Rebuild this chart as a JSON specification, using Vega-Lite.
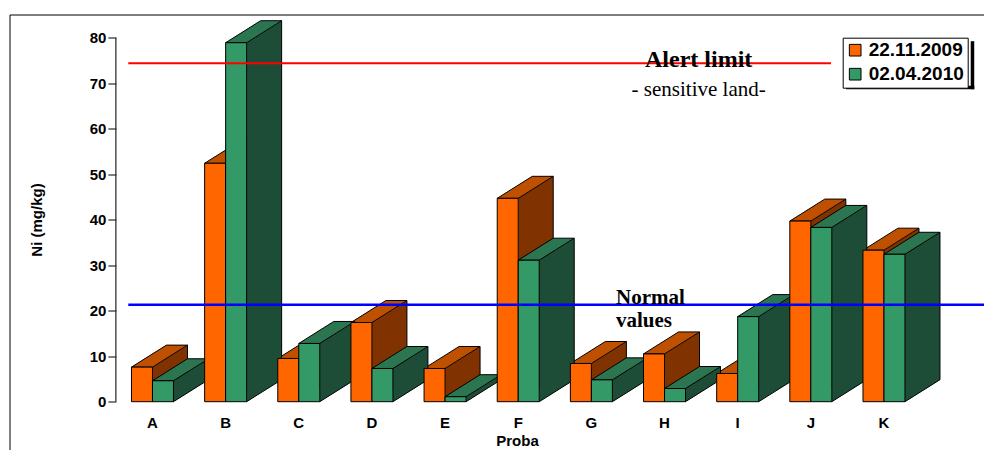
{
  "$schema": "https://vega.github.io/schema/vega-lite/v6.json",
  "width": 976,
  "height": 437,
  "autosize": "none",
  "padding": {"left": 9.5, "top": 14.5, "right": 0, "bottom": 0},
  "background": "white",
  "config": {
    "view": {"stroke": "black", "strokeWidth": 1},
    "font": "Liberation Sans"
  },
  "data": {
    "values": [
      {"Proba": "A", "Data": "22.11.2009", "Ni": 7.6},
      {"Proba": "A", "Data": "02.04.2010", "Ni": 4.6},
      {"Proba": "B", "Data": "22.11.2009", "Ni": 52.4},
      {"Proba": "B", "Data": "02.04.2010", "Ni": 78.9},
      {"Proba": "C", "Data": "22.11.2009", "Ni": 9.5},
      {"Proba": "C", "Data": "02.04.2010", "Ni": 12.8},
      {"Proba": "D", "Data": "22.11.2009", "Ni": 17.4},
      {"Proba": "D", "Data": "02.04.2010", "Ni": 7.3},
      {"Proba": "E", "Data": "22.11.2009", "Ni": 7.3},
      {"Proba": "E", "Data": "02.04.2010", "Ni": 1.1},
      {"Proba": "F", "Data": "22.11.2009", "Ni": 44.7},
      {"Proba": "F", "Data": "02.04.2010", "Ni": 31.1},
      {"Proba": "G", "Data": "22.11.2009", "Ni": 8.4},
      {"Proba": "G", "Data": "02.04.2010", "Ni": 4.8},
      {"Proba": "H", "Data": "22.11.2009", "Ni": 10.5},
      {"Proba": "H", "Data": "02.04.2010", "Ni": 2.9},
      {"Proba": "I", "Data": "22.11.2009", "Ni": 6.2},
      {"Proba": "I", "Data": "02.04.2010", "Ni": 18.7},
      {"Proba": "J", "Data": "22.11.2009", "Ni": 39.7},
      {"Proba": "J", "Data": "02.04.2010", "Ni": 38.3},
      {"Proba": "K", "Data": "22.11.2009", "Ni": 33.3},
      {"Proba": "K", "Data": "02.04.2010", "Ni": 32.4}
    ]
  },
  "encoding": {
    "x": {
      "field": "Proba",
      "type": "nominal",
      "scale": {
        "type": "band",
        "domain": ["A", "B", "C", "D", "E", "F", "G", "H", "I", "J", "K"],
        "range": [106.4, 911.05],
        "paddingInner": 0,
        "paddingOuter": 0
      },
      "axis": {
        "title": "Proba",
        "orient": "bottom",
        "offset": -49.8,
        "domain": false,
        "ticks": false,
        "labelPadding": 14,
        "labelAngle": 0,
        "labelFont": "Liberation Sans",
        "labelFontSize": 15,
        "labelFontWeight": "bold",
        "labelColor": "black",
        "titleFont": "Liberation Sans",
        "titleFontSize": 15,
        "titleFontWeight": "bold",
        "titleColor": "black",
        "titleX": 507.5,
        "titleY": 38.5,
        "titleBaseline": "middle"
      }
    },
    "y": {
      "field": "Ni",
      "type": "quantitative",
      "scale": {"domain": [-10.945, 85.099], "nice": false, "zero": false},
      "axis": {
        "title": "Ni (mg/kg)",
        "offset": -106.4,
        "domain": false,
        "grid": false,
        "values": [0, 10, 20, 30, 40, 50, 60, 70, 80],
        "tickSize": 8,
        "tickColor": "black",
        "labelPadding": 2,
        "labelFont": "Liberation Sans",
        "labelFontSize": 15,
        "labelFontWeight": "bold",
        "labelColor": "black",
        "titleFont": "Liberation Sans",
        "titleFontSize": 15,
        "titleFontWeight": "bold",
        "titleColor": "black",
        "titleX": -79.9,
        "titleY": 205,
        "titleAlign": "center",
        "titleBaseline": "middle"
      }
    }
  },
  "layer": [
    {
      "transform": [{"filter": "datum.Data === '22.11.2009'"}],
      "layer": [
        {"mark": {"type": "bar", "width": 35, "xOffset": 17.5, "color": "#803300", "strokeWidth": 0}, "encoding": {"y2": {"datum": 0}}},
        {"mark": {"type": "point", "shape": "M0,0L35,-22L35,0.8L0,0.8Z", "size": 4, "filled": true, "color": "#803300", "opacity": 1, "strokeWidth": 0, "xOffset": 0}},
        {"mark": {"type": "point", "shape": "M0,0L21,0L56,-22L35,-22Z", "size": 4, "filled": true, "fill": "#BF5000", "stroke": "black", "strokeWidth": 1, "strokeJoin": "round", "opacity": 1, "xOffset": -21}},
        {"mark": {"type": "point", "shape": "M0,0L35,-22L35.6,-22L35.6,1L0,1Z", "size": 4, "filled": true, "color": "white", "opacity": 1, "strokeWidth": 0, "xOffset": 0}, "encoding": {"y": {"datum": 0}}},
        {"mark": {"type": "rule", "color": "black", "strokeWidth": 1, "xOffset": 35, "yOffset": -22, "y2Offset": -22}, "encoding": {"y2": {"datum": 0}}},
        {"mark": {"type": "rule", "color": "black", "strokeWidth": 1, "xOffset": 0, "x2Offset": 35, "y2Offset": -22}, "encoding": {"x2": {"field": "Proba"}, "y": {"datum": 0}, "y2": {"datum": 0}}}
      ]
    },
    {
      "transform": [{"filter": "datum.Data === '02.04.2010'"}],
      "layer": [
        {"mark": {"type": "bar", "width": 35, "xOffset": 38.5, "color": "#1E4D37", "strokeWidth": 0}, "encoding": {"y2": {"datum": 0}}},
        {"mark": {"type": "point", "shape": "M0,0L35,-22L35,0.8L0,0.8Z", "size": 4, "filled": true, "color": "#1E4D37", "opacity": 1, "strokeWidth": 0, "xOffset": 21}},
        {"mark": {"type": "point", "shape": "M0,0L21,0L56,-22L35,-22Z", "size": 4, "filled": true, "fill": "#2B7551", "stroke": "black", "strokeWidth": 1, "strokeJoin": "round", "opacity": 1, "xOffset": 0}},
        {"mark": {"type": "point", "shape": "M0,0L35,-22L35.6,-22L35.6,1L0,1Z", "size": 4, "filled": true, "color": "white", "opacity": 1, "strokeWidth": 0, "xOffset": 21}, "encoding": {"y": {"datum": 0}}},
        {"mark": {"type": "rule", "color": "black", "strokeWidth": 1, "xOffset": 56, "yOffset": -22, "y2Offset": -22}, "encoding": {"y2": {"datum": 0}}},
        {"mark": {"type": "rule", "color": "black", "strokeWidth": 1, "xOffset": 21, "x2Offset": 56, "y2Offset": -22}, "encoding": {"x2": {"field": "Proba"}, "y": {"datum": 0}, "y2": {"datum": 0}}}
      ]
    },
    {
      "transform": [{"filter": "datum.Data === '22.11.2009'"}],
      "mark": {"type": "bar", "width": 21, "xOffset": -10.5, "stroke": "black", "strokeWidth": 1, "opacity": 1},
      "encoding": {
        "y2": {"datum": 0},
        "color": {
          "field": "Data",
          "type": "nominal",
          "scale": {"domain": ["22.11.2009", "02.04.2010"], "range": ["#FF6600", "#339966"]},
          "legend": {
            "orient": "none",
            "legendX": 833.2,
            "legendY": 23.2,
            "title": null,
            "symbolType": "square",
            "symbolSize": 136,
            "symbolStrokeColor": "black",
            "symbolStrokeWidth": 1,
            "symbolOpacity": 1,
            "labelFont": "Liberation Sans",
            "labelFontSize": 19,
            "labelFontWeight": "bold",
            "labelColor": "black",
            "labelOffset": 4,
            "padding": 3,
            "rowPadding": 4,
            "strokeColor": "black",
            "fillColor": "white"
          }
        }
      }
    },
    {
      "transform": [{"filter": "datum.Data === '02.04.2010'"}],
      "mark": {"type": "bar", "width": 21, "xOffset": 10.5, "stroke": "black", "strokeWidth": 1, "opacity": 1},
      "encoding": {
        "y2": {"datum": 0},
        "color": {"field": "Data", "type": "nominal"}
      }
    },
    {
      "transform": [{"filter": "datum.Proba === 'A' && datum.Data === '22.11.2009'"}],
      "layer": [
        {
          "mark": {"type": "rule", "color": "#222222", "strokeWidth": 1.2, "xOffset": -36.6},
          "encoding": {"x": {"datum": "A"}, "y": {"datum": 0}, "y2": {"datum": 80}}
        },
        {
          "mark": {"type": "rule", "color": "#FF0000", "strokeWidth": 2, "xOffset": -24.2, "x2Offset": 20.2},
          "encoding": {"x": {"datum": "A"}, "x2": {"datum": "J"}, "y": {"datum": 74.4}}
        },
        {
          "mark": {"type": "rule", "color": "#0000FF", "strokeWidth": 2.6, "xOffset": -24.2, "x2Offset": 101},
          "encoding": {"x": {"datum": "A"}, "x2": {"datum": "K"}, "y": {"datum": 21.3}}
        },
        {
          "mark": {"type": "rule", "color": "black", "strokeWidth": 3.5, "xOffset": 88.5},
          "encoding": {"x": {"datum": "K"}, "y": {"datum": 79.23}, "y2": {"datum": 68.68}}
        },
        {
          "mark": {"type": "rule", "color": "black", "strokeWidth": 3.5, "xOffset": -37.8, "x2Offset": 90.3},
          "encoding": {"x": {"datum": "K"}, "x2": {"datum": "K"}, "y": {"datum": 69.07}}
        },
        {
          "mark": {"type": "text", "text": "Alert limit", "font": "Liberation Serif", "fontSize": 24, "fontWeight": "bold", "align": "center", "baseline": "alphabetic", "xOffset": 34.15, "color": "black"},
          "encoding": {"x": {"datum": "H"}, "y": {"datum": 73.56}}
        },
        {
          "mark": {"type": "text", "text": "- sensitive land-", "font": "Liberation Serif", "fontSize": 21, "align": "center", "baseline": "alphabetic", "xOffset": 34.15, "color": "black"},
          "encoding": {"x": {"datum": "H"}, "y": {"datum": 67.19}}
        },
        {
          "mark": {"type": "text", "text": "Normal", "font": "Liberation Serif", "fontSize": 21, "fontWeight": "bold", "align": "left", "baseline": "alphabetic", "xOffset": 24.6, "color": "black"},
          "encoding": {"x": {"datum": "G"}, "y": {"datum": 21.58}}
        },
        {
          "mark": {"type": "text", "text": "values", "font": "Liberation Serif", "fontSize": 21, "fontWeight": "bold", "align": "left", "baseline": "alphabetic", "xOffset": 24.6, "color": "black"},
          "encoding": {"x": {"datum": "G"}, "y": {"datum": 16.42}}
        }
      ]
    }
  ]
}
